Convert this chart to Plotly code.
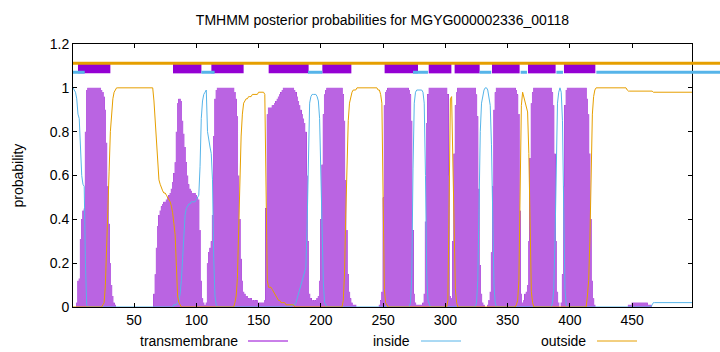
import plotly.graph_objects as go

# ---------------- data ----------------
residues = list(range(1, 499))

tm = [
0.00,0.00,0.00,0.02,0.12,0.13,0.31,0.40,0.44,0.45,  # 1-10
0.80,0.99,1.00,1.00,1.00,1.00,1.00,1.00,1.00,1.00,  # 11-20
1.00,1.00,1.00,0.99,0.98,0.96,0.90,0.75,0.55,0.38,  # 21-30
0.20,0.10,0.05,0.02,0.01,0.00,0.00,0.00,0.00,0.00,  # 31-40
0.00,0.00,0.00,0.00,0.00,0.00,0.00,0.00,0.00,0.00,  # 41-50
0.00,0.00,0.00,0.00,0.00,0.00,0.00,0.00,0.00,0.00,  # 51-60
0.00,0.00,0.00,0.00,0.00,0.06,0.15,0.27,0.37,0.42,  # 61-70
0.44,0.46,0.47,0.48,0.48,0.49,0.50,0.51,0.52,0.54,  # 71-80
0.57,0.61,0.66,0.80,0.93,0.95,0.95,0.94,0.85,0.79,  # 81-90
0.73,0.66,0.60,0.56,0.54,0.53,0.52,0.52,0.52,0.51,  # 91-100
0.50,0.49,0.35,0.12,0.04,0.02,0.01,0.02,0.20,0.25,  # 101-110
0.27,0.30,0.42,0.78,0.95,0.99,1.00,1.00,1.00,1.00,  # 111-120
1.00,1.00,1.00,1.00,1.00,1.00,1.00,1.00,1.00,1.00,  # 121-130
0.98,0.95,0.87,0.60,0.40,0.22,0.12,0.07,0.06,0.05,  # 131-140
0.05,0.04,0.04,0.04,0.03,0.03,0.03,0.03,0.03,0.02,  # 141-150
0.02,0.02,0.02,0.02,0.03,0.45,0.88,0.91,0.91,0.91,  # 151-160
0.92,0.92,0.93,0.94,0.95,0.96,0.97,0.98,0.99,1.00,  # 161-170
1.00,1.00,1.00,1.00,1.00,1.00,1.00,1.00,0.99,0.98,  # 171-180
0.96,0.94,0.92,0.90,0.88,0.86,0.84,0.80,0.60,0.30,  # 181-190
0.06,0.04,0.03,0.03,0.03,0.03,0.04,0.05,0.12,0.40,  # 191-200
0.65,0.88,0.97,0.99,1.00,1.00,1.00,1.00,1.00,1.00,  # 201-210
1.00,1.00,1.00,1.00,1.00,1.00,1.00,0.97,0.85,0.58,  # 211-220
0.35,0.15,0.07,0.04,0.02,0.01,0.01,0.01,0.00,0.00,  # 221-230
0.00,0.00,0.00,0.00,0.00,0.00,0.00,0.00,0.00,0.00,  # 231-240
0.00,0.00,0.00,0.00,0.00,0.00,0.01,0.03,0.07,0.50,  # 241-250
0.92,0.98,0.99,1.00,1.00,1.00,1.00,1.00,1.00,1.00,  # 251-260
1.00,1.00,1.00,1.00,1.00,1.00,1.00,1.00,1.00,1.00,  # 261-270
0.99,0.97,0.85,0.35,0.06,0.02,0.01,0.01,0.01,0.01,  # 271-280
0.01,0.02,0.06,0.39,0.84,0.97,1.00,1.00,1.00,1.00,  # 281-290
1.00,1.00,1.00,1.00,1.00,1.00,1.00,1.00,1.00,1.00,  # 291-300
1.00,0.97,0.60,0.05,0.04,0.30,0.70,0.92,0.98,1.00,  # 301-310
1.00,1.00,1.00,1.00,1.00,1.00,1.00,1.00,1.00,1.00,  # 311-320
1.00,1.00,1.00,1.00,0.97,0.87,0.54,0.19,0.06,0.02,  # 321-330
0.01,0.00,0.00,0.01,0.03,0.07,0.25,0.55,0.90,0.98,  # 331-340
1.00,1.00,1.00,1.00,1.00,1.00,1.00,1.00,1.00,1.00,  # 341-350
1.00,1.00,1.00,1.00,1.00,1.00,0.99,0.97,0.88,0.44,  # 351-360
0.06,0.02,0.03,0.06,0.07,0.10,0.30,0.68,0.93,0.98,  # 361-370
1.00,1.00,1.00,1.00,1.00,1.00,1.00,1.00,1.00,1.00,  # 371-380
1.00,1.00,1.00,1.00,1.00,0.98,0.92,0.70,0.30,0.07,  # 381-390
0.02,0.00,0.02,0.15,0.55,0.92,0.99,1.00,1.00,1.00,  # 391-400
1.00,1.00,1.00,1.00,1.00,1.00,1.00,1.00,1.00,1.00,  # 401-410
1.00,1.00,1.00,0.95,0.88,0.70,0.40,0.12,0.04,0.01,  # 411-420
0.00,0.00,0.00,0.00,0.00,0.00,0.00,0.00,0.00,0.00,  # 421-430
0.00,0.00,0.00,0.00,0.00,0.00,0.00,0.00,0.00,0.00,  # 431-440
0.00,0.00,0.00,0.00,0.00,0.00,0.01,0.01,0.01,0.02,  # 441-450
0.02,0.02,0.02,0.02,0.02,0.02,0.02,0.02,0.02,0.02,  # 451-460
0.02,0.02,0.01,0.01,0.01,0.00,0.00,0.00,0.00,0.00,  # 461-470
0.00,0.00,0.00,0.00,0.00,0.00,0.00,0.00,0.00,0.00,  # 471-480
0.00,0.00,0.00,0.00,0.00,0.00,0.00,0.00,0.00,0.00,  # 481-490
0.00,0.00,0.00,0.00,0.00,0.00,0.00,0.00,            # 491-498
]

inside = [
1.00,0.99,0.98,0.95,0.88,0.86,0.69,0.60,0.56,0.55,  # 1-10
0.20,0.01,0.00,0.00,0.00,0.00,0.00,0.00,0.00,0.00,  # 11-20
0.00,0.00,0.00,0.00,0.00,0.00,0.00,0.00,0.00,0.00,  # 21-30
0.00,0.00,0.00,0.00,0.00,0.00,0.00,0.00,0.00,0.00,  # 31-40
0.00,0.00,0.00,0.00,0.00,0.00,0.00,0.00,0.00,0.00,  # 41-50
0.00,0.00,0.00,0.00,0.00,0.00,0.00,0.00,0.00,0.00,  # 51-60
0.00,0.00,0.00,0.00,0.00,0.00,0.00,0.00,0.00,0.00,  # 61-70
0.00,0.00,0.00,0.00,0.00,0.00,0.00,0.00,0.00,0.00,  # 71-80
0.00,0.01,0.01,0.01,0.02,0.03,0.06,0.12,0.22,0.33,  # 81-90
0.42,0.45,0.46,0.47,0.47,0.48,0.48,0.48,0.48,0.49,  # 91-100
0.50,0.51,0.64,0.86,0.94,0.97,0.98,0.99,0.80,0.75,  # 101-110
0.73,0.70,0.58,0.22,0.05,0.01,0.00,0.00,0.00,0.00,  # 111-120
0.00,0.00,0.00,0.00,0.00,0.00,0.00,0.00,0.00,0.00,  # 121-130
0.00,0.00,0.00,0.00,0.00,0.00,0.00,0.00,0.00,0.00,  # 131-140
0.00,0.00,0.00,0.00,0.00,0.00,0.00,0.00,0.00,0.00,  # 141-150
0.00,0.00,0.00,0.00,0.00,0.00,0.00,0.00,0.00,0.00,  # 151-160
0.00,0.00,0.00,0.00,0.00,0.00,0.00,0.00,0.00,0.00,  # 161-170
0.00,0.00,0.00,0.00,0.00,0.00,0.01,0.01,0.01,0.02,  # 171-180
0.04,0.06,0.08,0.10,0.12,0.14,0.15,0.18,0.38,0.68,  # 181-190
0.93,0.96,0.97,0.97,0.97,0.97,0.96,0.94,0.86,0.58,  # 191-200
0.33,0.11,0.02,0.01,0.00,0.00,0.00,0.00,0.00,0.00,  # 201-210
0.00,0.00,0.00,0.00,0.00,0.00,0.00,0.00,0.00,0.00,  # 211-220
0.00,0.00,0.00,0.00,0.00,0.00,0.00,0.00,0.00,0.00,  # 221-230
0.00,0.00,0.00,0.00,0.00,0.00,0.00,0.00,0.00,0.00,  # 231-240
0.00,0.00,0.00,0.00,0.00,0.00,0.00,0.00,0.00,0.00,  # 241-250
0.00,0.00,0.00,0.00,0.00,0.00,0.00,0.00,0.00,0.00,  # 251-260
0.00,0.00,0.00,0.00,0.00,0.00,0.00,0.00,0.00,0.00,  # 261-270
0.00,0.02,0.14,0.63,0.93,0.98,0.99,0.99,0.99,0.99,  # 271-280
0.99,0.98,0.93,0.60,0.15,0.03,0.01,0.00,0.00,0.00,  # 281-290
0.00,0.00,0.00,0.00,0.00,0.00,0.00,0.00,0.00,0.00,  # 291-300
0.00,0.00,0.00,0.00,0.00,0.00,0.00,0.00,0.00,0.00,  # 301-310
0.00,0.00,0.00,0.00,0.00,0.00,0.00,0.00,0.00,0.00,  # 311-320
0.00,0.00,0.00,0.00,0.02,0.12,0.45,0.80,0.93,0.97,  # 321-330
0.99,1.00,1.00,0.99,0.96,0.92,0.74,0.44,0.10,0.02,  # 331-340
0.00,0.00,0.00,0.00,0.00,0.00,0.00,0.00,0.00,0.00,  # 341-350
0.00,0.00,0.00,0.00,0.00,0.00,0.00,0.00,0.00,0.00,  # 351-360
0.00,0.00,0.00,0.00,0.00,0.00,0.00,0.00,0.00,0.00,  # 361-370
0.00,0.00,0.00,0.00,0.00,0.00,0.00,0.00,0.00,0.00,  # 371-380
0.00,0.00,0.00,0.00,0.00,0.02,0.08,0.30,0.70,0.93,  # 381-390
0.98,1.00,0.98,0.85,0.45,0.08,0.01,0.00,0.00,0.00,  # 391-400
0.00,0.00,0.00,0.00,0.00,0.00,0.00,0.00,0.00,0.00,  # 401-410
0.00,0.00,0.00,0.00,0.00,0.00,0.00,0.00,0.00,0.00,  # 411-420
0.00,0.00,0.00,0.00,0.00,0.00,0.00,0.00,0.00,0.00,  # 421-430
0.00,0.00,0.00,0.00,0.00,0.00,0.00,0.00,0.00,0.00,  # 431-440
0.00,0.00,0.00,0.00,0.00,0.00,0.00,0.00,0.00,0.00,  # 441-450
0.00,0.00,0.00,0.00,0.00,0.00,0.00,0.00,0.00,0.00,  # 451-460
0.00,0.00,0.00,0.00,0.00,0.01,0.02,0.02,0.02,0.02,  # 461-470
0.02,0.02,0.02,0.02,0.02,0.02,0.02,0.02,0.02,0.02,  # 471-480
0.02,0.02,0.02,0.02,0.02,0.02,0.02,0.02,0.02,0.02,  # 481-490
0.02,0.02,0.02,0.02,0.02,0.02,0.02,0.02,            # 491-498
]

outside = [
0.00,0.00,0.00,0.00,0.00,0.00,0.00,0.00,0.00,0.00,  # 1-10
0.00,0.00,0.00,0.00,0.00,0.00,0.00,0.00,0.00,0.00,  # 11-20
0.00,0.00,0.00,0.00,0.01,0.02,0.10,0.25,0.45,0.62,  # 21-30
0.80,0.90,0.95,0.98,0.99,1.00,1.00,1.00,1.00,1.00,  # 31-40
1.00,1.00,1.00,1.00,1.00,1.00,1.00,1.00,1.00,1.00,  # 41-50
1.00,1.00,1.00,1.00,1.00,1.00,1.00,1.00,1.00,1.00,  # 51-60
1.00,1.00,1.00,1.00,1.00,0.94,0.85,0.73,0.63,0.58,  # 61-70
0.56,0.54,0.53,0.52,0.52,0.51,0.50,0.49,0.48,0.46,  # 71-80
0.43,0.38,0.33,0.19,0.05,0.02,0.01,0.00,0.00,0.00,  # 81-90
0.00,0.00,0.00,0.00,0.00,0.00,0.00,0.00,0.00,0.00,  # 91-100
0.00,0.00,0.00,0.00,0.00,0.00,0.00,0.00,0.00,0.00,  # 101-110
0.00,0.00,0.00,0.00,0.00,0.00,0.00,0.00,0.00,0.00,  # 111-120
0.00,0.00,0.00,0.00,0.00,0.00,0.00,0.00,0.00,0.00,  # 121-130
0.02,0.05,0.13,0.40,0.60,0.78,0.88,0.93,0.94,0.95,  # 131-140
0.95,0.96,0.96,0.96,0.97,0.97,0.97,0.97,0.97,0.98,  # 141-150
0.98,0.98,0.98,0.98,0.97,0.55,0.12,0.09,0.09,0.09,  # 151-160
0.08,0.07,0.06,0.05,0.04,0.03,0.03,0.02,0.02,0.02,  # 161-170
0.02,0.01,0.01,0.01,0.01,0.01,0.01,0.01,0.00,0.00,  # 171-180
0.00,0.00,0.00,0.00,0.00,0.00,0.00,0.00,0.00,0.00,  # 181-190
0.00,0.00,0.00,0.00,0.00,0.00,0.00,0.00,0.00,0.00,  # 191-200
0.00,0.00,0.00,0.00,0.00,0.00,0.00,0.00,0.00,0.00,  # 201-210
0.00,0.00,0.00,0.00,0.00,0.00,0.00,0.03,0.15,0.42,  # 211-220
0.65,0.85,0.93,0.96,0.98,0.99,0.99,0.99,1.00,1.00,  # 221-230
1.00,1.00,1.00,1.00,1.00,1.00,1.00,1.00,1.00,1.00,  # 231-240
1.00,1.00,1.00,1.00,1.00,0.99,0.99,0.97,0.93,0.50,  # 241-250
0.08,0.02,0.01,0.00,0.00,0.00,0.00,0.00,0.00,0.00,  # 251-260
0.00,0.00,0.00,0.00,0.00,0.00,0.00,0.00,0.00,0.00,  # 261-270
0.00,0.00,0.00,0.00,0.00,0.00,0.00,0.00,0.00,0.00,  # 271-280
0.00,0.00,0.00,0.00,0.00,0.00,0.00,0.00,0.00,0.00,  # 281-290
0.00,0.00,0.00,0.00,0.00,0.00,0.00,0.00,0.00,0.00,  # 291-300
0.00,0.03,0.40,0.95,0.96,0.70,0.30,0.08,0.02,0.00,  # 301-310
0.00,0.00,0.00,0.00,0.00,0.00,0.00,0.00,0.00,0.00,  # 311-320
0.00,0.00,0.00,0.00,0.00,0.00,0.00,0.00,0.00,0.00,  # 321-330
0.00,0.00,0.00,0.00,0.00,0.00,0.00,0.00,0.00,0.00,  # 331-340
0.00,0.00,0.00,0.00,0.00,0.00,0.00,0.00,0.00,0.00,  # 341-350
0.00,0.00,0.00,0.00,0.00,0.00,0.01,0.03,0.12,0.56,  # 351-360
0.92,0.98,0.96,0.93,0.92,0.89,0.70,0.32,0.07,0.02,  # 361-370
0.00,0.00,0.00,0.00,0.00,0.00,0.00,0.00,0.00,0.00,  # 371-380
0.00,0.00,0.00,0.00,0.00,0.00,0.00,0.00,0.00,0.00,  # 381-390
0.00,0.00,0.00,0.00,0.00,0.00,0.00,0.00,0.00,0.00,  # 391-400
0.00,0.00,0.00,0.00,0.00,0.00,0.00,0.00,0.00,0.00,  # 401-410
0.00,0.00,0.00,0.05,0.12,0.30,0.60,0.88,0.96,0.99,  # 411-420
1.00,1.00,1.00,1.00,1.00,1.00,1.00,1.00,1.00,1.00,  # 421-430
1.00,1.00,1.00,1.00,1.00,1.00,1.00,1.00,1.00,1.00,  # 431-440
1.00,1.00,1.00,1.00,1.00,0.99,0.985,0.985,0.985,0.985,  # 441-450
0.985,0.985,0.985,0.985,0.985,0.985,0.985,0.985,0.985,0.985,  # 451-460
0.985,0.985,0.985,0.985,0.985,0.985,0.98,0.98,0.98,0.98,  # 461-470
0.98,0.98,0.98,0.98,0.98,0.98,0.98,0.98,0.98,0.98,  # 471-480
0.98,0.98,0.98,0.98,0.98,0.98,0.98,0.98,0.98,0.98,  # 481-490
0.98,0.98,0.98,0.98,0.98,0.98,0.98,0.98,            # 491-498
]

# predicted topology band drawn above the curves (residue ranges)
tm_boxes = [(5, 31), (81.3, 104.1), (112.1, 138), (158.1, 190.2), (201.2, 224.5),
            (251.2, 278), (286.6, 304.8), (307.4, 327.5), (337.4, 359.6),
            (366.3, 388.5), (395.2, 420.4)]
inside_segments = [(1, 10.4), (104.1, 114.7), (189.7, 201.2), (274, 286),
                   (327.5, 336.8), (360.4, 365.5), (389.1, 394.4)]
inside_tail_start = 421.2

title_text = "TMHMM posterior probabilities for MGYG000002336_00118"
legend_names = ["transmembrane", "inside", "outside"]

assert len(tm) == len(residues) == len(inside) == len(outside)

# ---------------- styling ----------------
C_TM = "#9400D3"
C_IN = "#56B4E9"
C_OUT = "#E69F00"
FONT = "Liberation Sans, Arial, sans-serif"

W, H = 720, 352
PL, PR, PT, PB = 73, 692, 44, 307   # plot-area pixel box
XR = [1, 498]
YR = [0, 1.2]

def px_x(px):
    return (px - PL) / (PR - PL)

def px_y(py):
    return (PB - py) / (PB - PT)

fig = go.Figure()

# step-fill under the impulses (no white gaps), then alternating light/dark
# impulses on top to give the striped look of overlapping gnuplot impulses
fig.add_trace(go.Scatter(x=residues, y=tm, mode="lines",
                         line=dict(width=0, shape="hvh"), fill="tozeroy",
                         fillcolor="rgb(186,100,226)", hoverinfo="skip"))
stripe = ["rgba(166,58,214,0.99)" if i % 2 else "rgba(204,136,236,0.99)"
          for i in range(len(residues))]
fig.add_trace(go.Bar(x=residues, y=tm, width=1.0,
                     marker=dict(color=stripe, line=dict(width=0)),
                     name=legend_names[0], hoverinfo="x+y"))
fig.add_trace(go.Scatter(x=residues, y=inside, mode="lines",
                         line=dict(color=C_IN, width=1), name=legend_names[1]))
fig.add_trace(go.Scatter(x=residues, y=outside, mode="lines",
                         line=dict(color=C_OUT, width=1), name=legend_names[2]))

shapes = []
Y_IN, Y_OUT = 1.071, 1.112
BOX_LO, BOX_HI = 1.066, 1.114
for a, b in tm_boxes:
    shapes.append(dict(type="rect", xref="x", yref="y", x0=a, x1=b, y0=BOX_LO, y1=BOX_HI,
                       fillcolor=C_TM, line=dict(width=0), layer="above"))
for a, b in inside_segments:
    shapes.append(dict(type="line", xref="x", yref="y", x0=a, x1=b, y0=Y_IN, y1=Y_IN,
                       line=dict(color=C_IN, width=3), layer="above"))

def r2paper(r):
    return (r - XR[0]) / (XR[1] - XR[0])

edge = px_x(W)
shapes.append(dict(type="line", xref="paper", yref="y", x0=r2paper(inside_tail_start), x1=edge,
                   y0=Y_IN, y1=Y_IN, line=dict(color=C_IN, width=3), layer="above"))
shapes.append(dict(type="line", xref="paper", yref="y", x0=0, x1=edge,
                   y0=Y_OUT, y1=Y_OUT, line=dict(color=C_OUT, width=3), layer="above"))

# gnuplot-style legend (text then line sample) under the axis
annotations = []
leg_y = px_y(341)
for name, tx, lx0, lx1, col in [(legend_names[0], 240, 248, 288, C_TM),
                                 (legend_names[1], 412, 421, 461, C_IN),
                                 (legend_names[2], 588, 597, 637, C_OUT)]:
    annotations.append(dict(text=name, x=px_x(tx), y=leg_y, xref="paper", yref="paper",
                            xanchor="right", yanchor="middle", showarrow=False,
                            font=dict(family=FONT, size=14, color="black")))
    shapes.append(dict(type="line", xref="paper", yref="paper", x0=px_x(lx0), x1=px_x(lx1),
                       y0=leg_y, y1=leg_y, line=dict(color=col, width=1)))

annotations.append(dict(text="probability", x=px_x(17), y=0.5, xref="paper", yref="paper",
                        textangle=-90, xanchor="center", yanchor="middle", showarrow=False,
                        font=dict(family=FONT, size=14, color="black")))

fig.update_layout(
    width=W, height=H,
    margin=dict(l=PL, r=W - PR, t=PT, b=H - PB, pad=0),
    paper_bgcolor="white", plot_bgcolor="white",
    font=dict(family=FONT, size=14, color="black"),
    showlegend=False, bargap=0,
    title=dict(text=title_text, x=0.5, xref="paper", xanchor="center",
               y=1 - 20 / H, yref="container", yanchor="middle",
               font=dict(family=FONT, size=14, color="black")),
    xaxis=dict(range=XR, tickmode="array", tickvals=[50, 100, 150, 200, 250, 300, 350, 400, 450],
               ticks="inside", ticklen=4, tickcolor="black", showline=True, linecolor="black",
               linewidth=1, mirror="ticks", showgrid=False, zeroline=False),
    yaxis=dict(range=YR, tickmode="array", tickvals=[0, 0.2, 0.4, 0.6, 0.8, 1, 1.2],
               ticktext=["0", "0.2", "0.4", "0.6", "0.8", "1", "1.2"],
               ticks="inside", ticklen=4, tickcolor="black", showline=True, linecolor="black",
               linewidth=1, mirror="ticks", showgrid=False, zeroline=False),
    shapes=shapes, annotations=annotations,
)

fig.write_html("out.html")
